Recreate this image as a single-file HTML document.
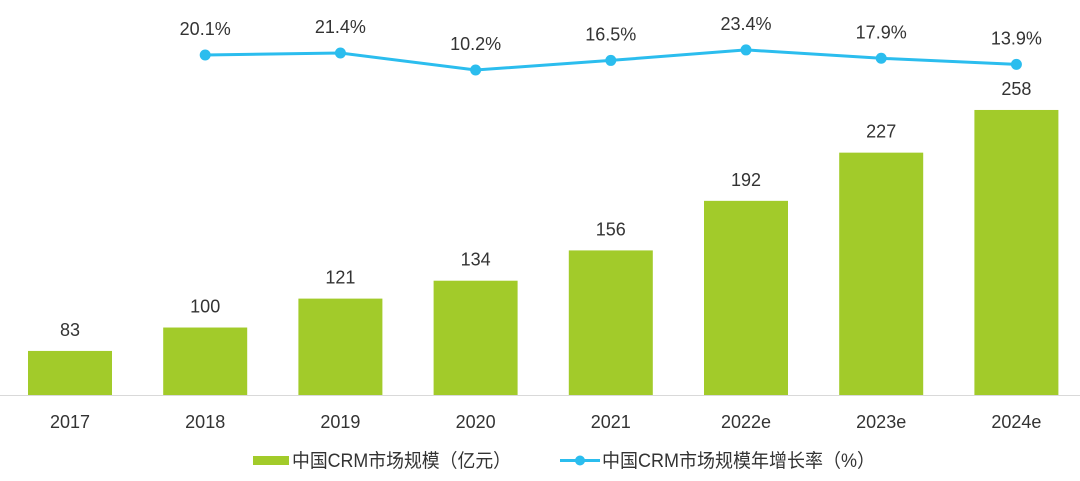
<!DOCTYPE html>
<html><head><meta charset="utf-8"><style>
body{margin:0;background:#fff;}
svg text{font-family:"Liberation Sans","Noto Sans CJK SC",sans-serif;fill:#333;}
</style></head><body>
<svg width="1080" height="476">
<g id="bars"></g><line x1="0" y1="395.5" x2="1080" y2="395.5" stroke="#d9d9d9" stroke-width="1"/>
<g id="xl"></g><g id="line"></g>
<g>
<rect x="253" y="456" width="36" height="9" fill="#a2cb2a"/>
<text x="292" y="467" font-size="19" textLength="219" lengthAdjust="spacingAndGlyphs">中国CRM市场规模（亿元）</text>
<line x1="560" y1="460.5" x2="600" y2="460.5" stroke="#2bbdee" stroke-width="3"/>
<circle cx="580" cy="460.5" r="5" fill="#2bbdee"/>
<text x="602" y="467" font-size="19" textLength="273" lengthAdjust="spacingAndGlyphs">中国CRM市场规模年增长率（%）</text>
</g>
</svg>
<script>
const categories=["2017","2018","2019","2020","2021","2022e","2023e","2024e"];
const marketSize=[83,100,121,134,156,192,227,258];
const growthRate=[null,20.1,21.4,10.2,16.5,23.4,17.9,13.9];
const NS="http://www.w3.org/2000/svg";
const x=i=>70+i*135.2;
const yb=v=>395-(v-51)*1.377;
const yl=v=>70-(v-10.2)*1.52;
function mk(t,a,p){const e=document.createElementNS(NS,t);for(const k in a)e.setAttribute(k,a[k]);p.appendChild(e);return e;}
const gb=document.getElementById('bars'),gx=document.getElementById('xl'),gl=document.getElementById('line');
categories.forEach((c,i)=>{
 const r=mk('rect',{x:x(i)-42,y:yb(marketSize[i]),width:84,height:395-yb(marketSize[i]),fill:'#a2cb2a'},gb);
 
 
 const t=mk('text',{x:x(i),y:yb(marketSize[i])-15,'font-size':18,'text-anchor':'middle'},gb);t.textContent=marketSize[i];
 
 
 const xt=mk('text',{x:x(i),y:428,'font-size':18,'text-anchor':'middle'},gx);xt.textContent=c;
 
 
});
let pts=[];growthRate.forEach((v,i)=>{if(v!=null)pts.push([x(i),yl(v),v,i]);});
const pl=mk('polyline',{points:pts.map(p=>p[0]+','+p[1]).join(' '),fill:'none',stroke:'#2bbdee','stroke-width':3},gl);


pts.forEach(p=>{
 const c=mk('circle',{cx:p[0],cy:p[1],r:5.5,fill:'#2bbdee'},gl);
 
 
 const t=mk('text',{x:p[0],y:p[1]-20,'font-size':18,'text-anchor':'middle'},gl);t.textContent=p[2].toFixed(1)+'%';
 
 
});
</script>
</body></html>
